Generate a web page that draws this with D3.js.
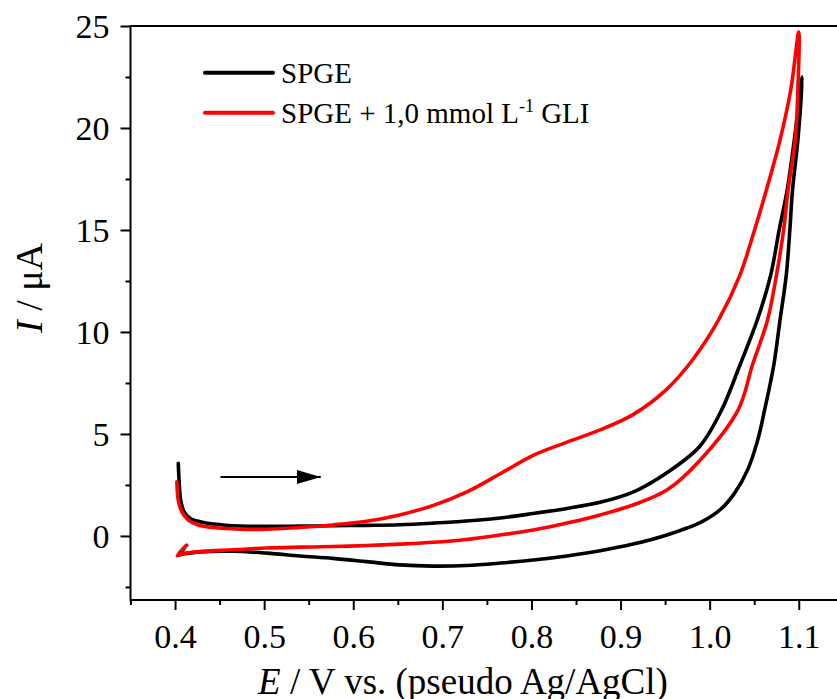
<!DOCTYPE html>
<html>
<head>
<meta charset="utf-8">
<script src="https://cdn.jsdelivr.net/npm/d3@7"></script>
<style>
	body { margin: 0; background: #fff; }
	svg { display: block; font-family: "Times New Roman", "Liberation Serif", serif; }
	.axis { font-family: "Times New Roman", "Liberation Serif", serif; }
	.axis text { font-size: 34px; fill: #000; }
	.axis line { stroke: #000; stroke-width: 2; }
</style>
</head>
<body>
<svg id="cv" width="837" height="699"></svg>
<script>
const Width = 837;
const Height = 699;

// SPGE, forward then reverse scan
const spgeE = [0.4036, 0.4047, 0.4063, 0.41, 0.4167, 0.428, 0.443, 0.473, 0.503, 0.54, 0.577, 0.615, 0.652, 0.69, 0.727, 0.765, 0.802, 0.84, 0.877, 0.914, 0.952, 0.989, 1.0135, 1.034, 1.0535, 1.0685, 1.078, 1.087, 1.095, 1.104,
	1.099, 1.093, 1.09, 1.086, 1.079, 1.072, 1.0617, 1.054, 1.0426, 1.028, 1.0127, 0.991, 0.952, 0.914, 0.877, 0.84, 0.802, 0.765, 0.727, 0.69, 0.652, 0.615, 0.577, 0.54, 0.503, 0.465, 0.428, 0.41, 0.404, 0.41];
const spgeI = [3.56, 2.58, 1.76, 1.19, 0.87, 0.7, 0.59, 0.49, 0.47, 0.48, 0.5, 0.52, 0.55, 0.63, 0.73, 0.88, 1.1, 1.35, 1.65, 2.15, 3.1, 4.4, 6.18, 8.38, 10.59, 12.79, 15.0, 16.96, 19.41, 22.5,
	19.41, 16.96, 15.0, 12.79, 10.59, 8.38, 6.18, 4.71, 3.24, 2.1, 1.32, 0.69, 0.05, -0.4, -0.73, -0.98, -1.18, -1.33, -1.45, -1.48, -1.42, -1.26, -1.1, -0.98, -0.84, -0.75, -0.78, -0.88, -0.93, -0.62];

// SPGE + 1,0 mmol/L GLI
const gliE = [0.402, 0.4036, 0.4075, 0.415, 0.426, 0.443, 0.473, 0.503, 0.54, 0.577, 0.615, 0.652, 0.69, 0.727, 0.765, 0.802, 0.84, 0.877, 0.914, 0.952, 0.982, 1.01, 1.034, 1.047, 1.0637, 1.079, 1.091, 1.1,
	1.099, 1.096, 1.088, 1.083, 1.075, 1.065, 1.048, 1.032, 0.989, 0.952, 0.914, 0.877, 0.84, 0.802, 0.765, 0.727, 0.69, 0.652, 0.615, 0.577, 0.54, 0.503, 0.465, 0.428, 0.405, 0.4025, 0.407, 0.413];
const gliI = [2.66, 1.76, 1.19, 0.78, 0.54, 0.41, 0.33, 0.33, 0.42, 0.54, 0.72, 1.03, 1.5, 2.15, 3.05, 3.95, 4.6, 5.2, 5.95, 7.2, 8.7, 10.59, 12.79, 14.51, 16.96, 19.41, 21.86, 24.7,
	21.86, 19.41, 16.96, 15.0, 12.79, 10.59, 8.38, 6.18, 3.7, 2.25, 1.52, 1.03, 0.63, 0.29, 0.05, -0.17, -0.31, -0.4, -0.47, -0.52, -0.55, -0.59, -0.68, -0.77, -0.9, -0.97, -0.72, -0.45];

const xTicks = [0.4, 0.5, 0.6, 0.7, 0.8, 0.9, 1.0, 1.1];
const xMinor = [0.35, 0.45, 0.55, 0.65, 0.75, 0.85, 0.95, 1.05, 1.15];
const yTicks = [0, 5, 10, 15, 20, 25];
const yMinor = [-2.5, 2.5, 7.5, 12.5, 17.5, 22.5];

const seriesNames = ["SPGE", "SPGE + 1,0 mmol L"];
const seriesColors = ["#000000", "#ff0000"];
// scan direction arrow, in data units
const arrowE = [0.451, 0.5635];
const arrowI = 2.89;

const chart = d3.select("#cv");
const plotLeft = 130.5, plotRight = 843.3, plotTop = 26, plotBottom = 600;

const x = d3.scaleLinear().domain([0.35, 1.15]).range([plotLeft, plotRight]);
const y = d3.scaleLinear().domain([-3.14, 25]).range([plotBottom, plotTop]);

// minor ticks first, no labels
const xm = chart.append("g").attr("class", "axis").attr("transform", `translate(0,${plotBottom})`)
	.call(d3.axisBottom(x).tickValues(xMinor).tickSize(5).tickSizeOuter(0).tickFormat(""));
xm.select(".domain").remove();
const ym = chart.append("g").attr("class", "axis").attr("transform", `translate(${plotLeft},0)`)
	.call(d3.axisLeft(y).tickValues(yMinor).tickSize(5).tickSizeOuter(0).tickFormat(""));
ym.select(".domain").remove();

const xa = chart.append("g").attr("class", "axis").attr("transform", `translate(0,${plotBottom})`)
	.call(d3.axisBottom(x).tickValues(xTicks).tickSize(10).tickSizeOuter(0).tickFormat(d3.format(".1f")));
xa.select(".domain").remove();
xa.selectAll("text").attr("dy", null).attr("y", 48);
const ya = chart.append("g").attr("class", "axis").attr("transform", `translate(${plotLeft},0)`)
	.call(d3.axisLeft(y).tickValues(yTicks).tickSize(10).tickSizeOuter(0).tickPadding(11).tickFormat(d3.format("d")));
ya.select(".domain").remove();
ya.selectAll("text").attr("dy", "0.34em");

// frame
chart.append("rect").attr("x", plotLeft).attr("y", plotTop).attr("width", plotRight - plotLeft).attr("height", plotBottom - plotTop)
	.attr("fill", "none").attr("stroke", "#000").attr("stroke-width", 2);

const line = d3.line().x(d => x(d[0])).y(d => y(d[1])).curve(d3.curveCatmullRom.alpha(0.5));
const series = [d3.zip(spgeE, spgeI), d3.zip(gliE, gliI)];
chart.selectAll("path.cv").data(series).enter().append("path").attr("class", "cv")
	.attr("d", line).attr("fill", "none").attr("stroke", (d, i) => seriesColors[i])
	.attr("stroke-width", 3.6).attr("stroke-linejoin", "round").attr("stroke-linecap", "round");

// arrow
chart.append("defs").append("marker").attr("id", "head").attr("viewBox", "0 0 12 7").attr("refX", 12).attr("refY", 3.5)
	.attr("markerUnits", "userSpaceOnUse").attr("orient", "auto")
	.attr("markerWidth", 24).attr("markerHeight", 14)
	.append("path").attr("d", "M0,0L12,3.5L0,7Z").attr("fill", "#000");
chart.append("line").attr("x1", x(arrowE[0])).attr("x2", x(arrowE[1])).attr("y1", y(arrowI)).attr("y2", y(arrowI))
	.attr("stroke", "#000").attr("stroke-width", 2).attr("marker-end", "url(#head)");

// legend
const legend = chart.selectAll("g.legend").data(seriesNames).enter().append("g").attr("class", "legend")
	.attr("transform", (d, i) => `translate(0,${72.7 + i * 40})`);
legend.append("line").attr("x1", 205).attr("x2", 273).attr("stroke", (d, i) => seriesColors[i])
	.attr("stroke-width", 4).attr("stroke-linecap", "round");
const lt = legend.append("text").attr("x", 281).attr("y", 10.5).attr("font-size", 29).text(d => d);
lt.filter((d, i) => i == 1).append("tspan").attr("font-size", 18).attr("dy", -11).text("-1");
lt.filter((d, i) => i == 1).append("tspan").attr("dy", 11).text(" GLI");

// axis titles
const xt = chart.append("text").attr("x", 463).attr("y", 694).attr("text-anchor", "middle").attr("font-size", 37);
xt.append("tspan").attr("font-style", "italic").text("E");
xt.append("tspan").text(" / V vs. (pseudo Ag/AgCl)");
const yt = chart.append("text").attr("transform", "translate(42,288) rotate(-90)").attr("text-anchor", "middle").attr("font-size", 38);
yt.append("tspan").attr("font-style", "italic").text("I");
yt.append("tspan").text(" / μA");
</script>
</body>
</html>
